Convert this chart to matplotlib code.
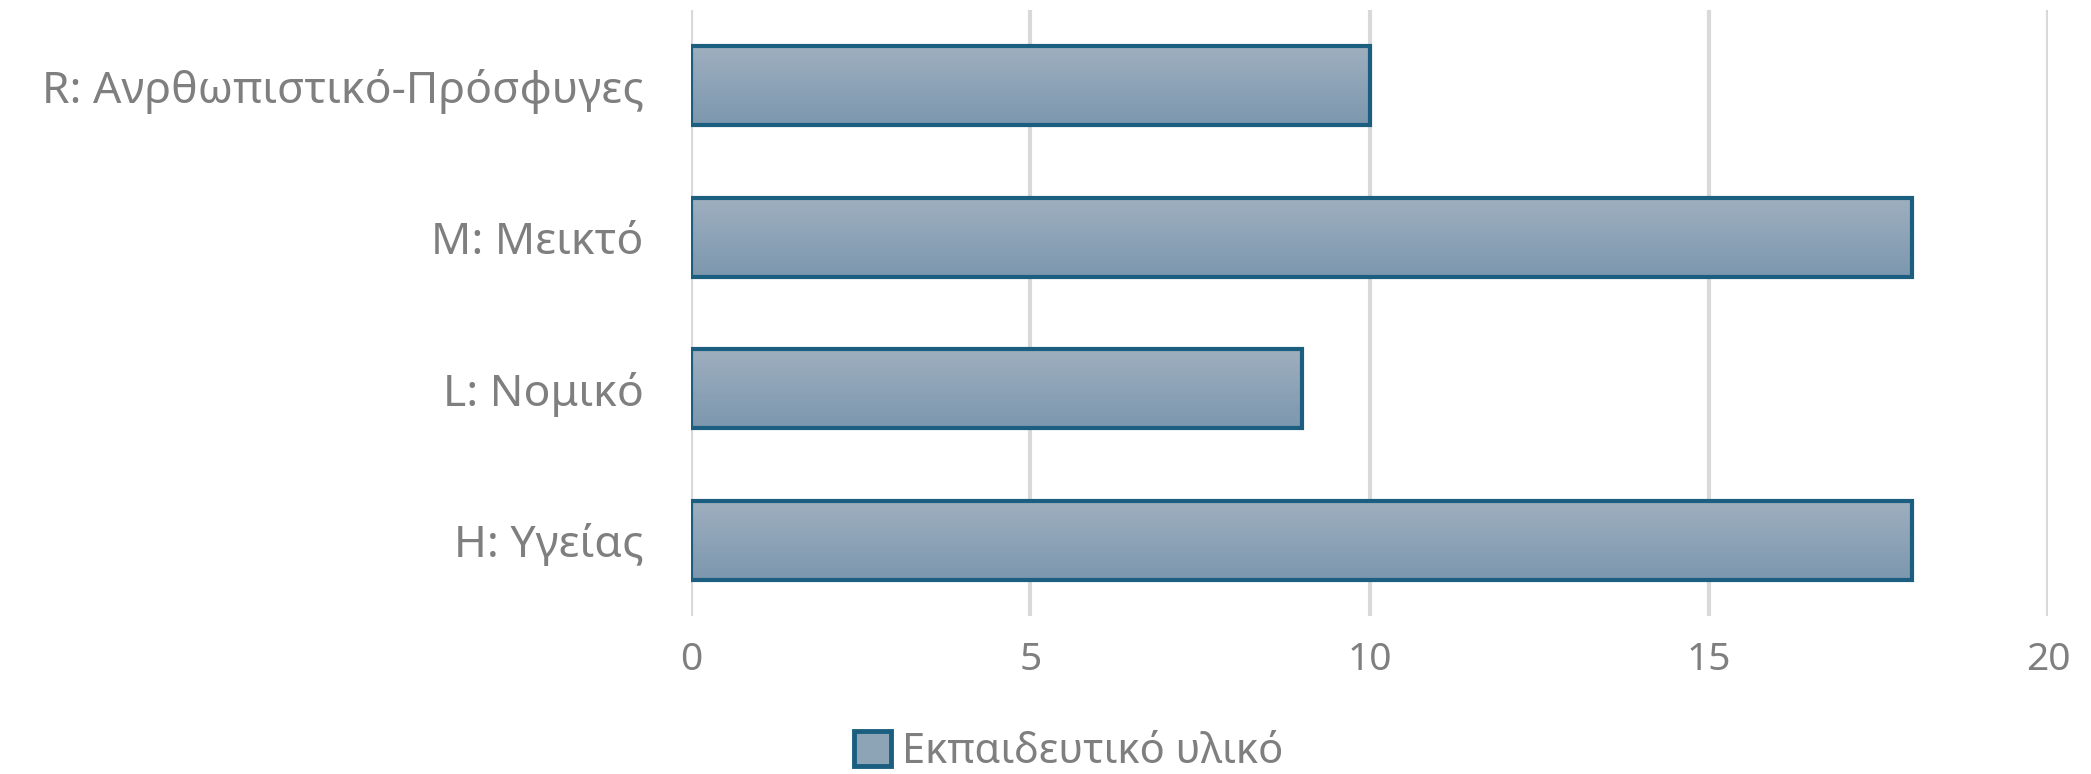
import numpy as np
import matplotlib.pyplot as plt
from matplotlib.colors import LinearSegmentedColormap
from matplotlib.patches import Patch

categories = ['H: Υγείας', 'L: Νομικό', 'M: Μεικτό', 'R: Ανρθωπιστικό-Πρόσφυγες']
values = [18, 9, 18, 10]
series_name = 'Εκπαιδευτικό υλικό'
xticks = [0, 5, 10, 15, 20]

plt.rcParams['font.family'] = ['Noto Sans', 'DejaVu Sans']
text_color = '#7f7f7f'
edge_color = '#1b5e80'
grad = LinearSegmentedColormap.from_list('bar', ['#7c97ae', '#9eafbf'])

fig = plt.figure(figsize=(20.91, 7.74), dpi=100)
ax = fig.add_axes([0.3305, 0.204, 0.649, 0.783])

y = np.arange(len(categories))
height = 0.52
bars = ax.barh(y, values, height=height, facecolor='none', edgecolor=edge_color,
               linewidth=3, zorder=3)

# vertical gradient inside each bar
g = np.linspace(0, 1, 256).reshape(-1, 1)
for b in bars:
    x0, y0 = b.get_x(), b.get_y()
    ax.imshow(g, cmap=grad, aspect='auto', origin='lower', zorder=2,
              extent=[x0, x0 + b.get_width(), y0, y0 + b.get_height()])

ax.set_xlim(0, 20)
ax.set_ylim(-0.5, len(categories) - 0.5)
ax.set_xticks(xticks)
ax.set_yticks(y)
ax.set_yticklabels(categories)
ax.grid(axis='x', color='#d9d9d9', linewidth=3, zorder=0)
ax.set_axisbelow(True)
for s in ax.spines.values():
    s.set_visible(False)
ax.tick_params(axis='x', length=0, labelsize=28, labelcolor=text_color, pad=18)
ax.tick_params(axis='y', length=0, labelsize=32, labelcolor=text_color, pad=34)

handle = Patch(facecolor='#8da3b6', edgecolor=edge_color, linewidth=3.5)
fig.legend([handle], [series_name], loc='center', bbox_to_anchor=(0.511, 1 - 752 / 774),
           frameon=False, fontsize=30, labelcolor=text_color, borderpad=0,
           handlelength=0.9, handleheight=0.9, handletextpad=0.26)

fig.savefig('out.png', dpi=100)
